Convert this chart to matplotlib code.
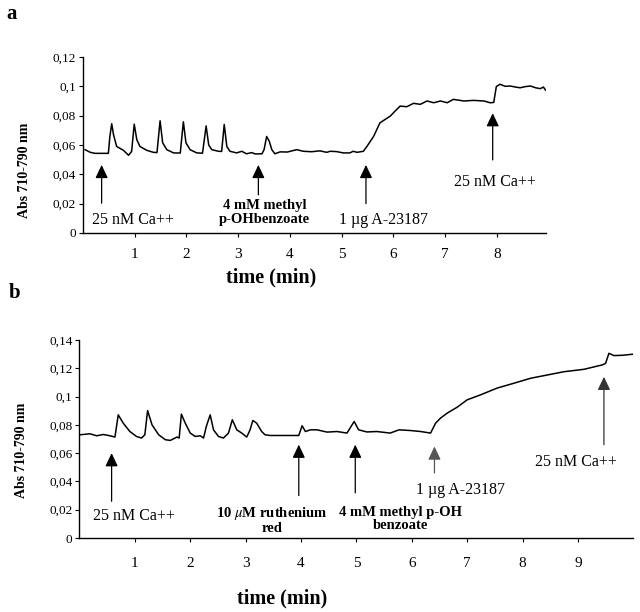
import matplotlib
matplotlib.use("Agg")
import matplotlib.pyplot as plt

plt.rcParams['font.family'] = ['Liberation Serif', 'DejaVu Serif']
plt.rcParams['mathtext.fontset'] = 'stix'

# ---- panel a: trace (time in min, absorbance) ----
a_time = [0.04, 0.14, 0.23, 0.49, 0.52, 0.555, 0.59, 0.65, 0.78, 0.88, 0.94,
          0.99, 1.04, 1.10, 1.23, 1.36, 1.43,
          1.49, 1.54, 1.62, 1.75, 1.88,
          1.94, 1.99, 2.07, 2.20, 2.31,
          2.38, 2.43, 2.49, 2.62, 2.68,
          2.73, 2.78, 2.84, 2.97, 3.07, 3.16, 3.26, 3.33, 3.46, 3.50,
          3.55, 3.60, 3.65, 3.71, 3.81, 3.95, 4.13, 4.26, 4.42, 4.58, 4.71,
          4.78, 4.90, 5.03, 5.16, 5.22, 5.30, 5.42,
          5.49, 5.62, 5.74, 5.84, 5.94, 6.03, 6.13, 6.26, 6.39, 6.52, 6.65,
          6.78, 6.91, 7.04, 7.16, 7.36, 7.55, 7.75, 7.87, 7.94, 7.99, 8.06,
          8.16, 8.26, 8.36, 8.45, 8.55, 8.65, 8.75, 8.84, 8.90, 8.94]
a_abs = [0.0568, 0.0550, 0.0543, 0.0543, 0.0660, 0.0745, 0.0670, 0.0590, 0.0564, 0.0530, 0.0556,
         0.0742, 0.0636, 0.0590, 0.0564, 0.0550, 0.0548,
         0.0765, 0.0615, 0.0568, 0.0546, 0.0545,
         0.0758, 0.0615, 0.0568, 0.0546, 0.0544,
         0.0730, 0.0600, 0.0568, 0.0557, 0.0556,
         0.0740, 0.0590, 0.0557, 0.0546, 0.0557, 0.0540, 0.0548, 0.0539, 0.0540, 0.0568,
         0.0658, 0.0626, 0.0568, 0.0540, 0.0553, 0.0552, 0.0568, 0.0557, 0.0554, 0.0560, 0.0550,
         0.0557, 0.0555, 0.0546, 0.0546, 0.0557, 0.0550, 0.0557,
         0.0591, 0.0660, 0.0751, 0.0774, 0.0797, 0.0830, 0.0865, 0.0861, 0.0884, 0.0877, 0.0900,
         0.0888, 0.0900, 0.0888, 0.0911, 0.0900, 0.0904, 0.0900, 0.0888, 0.0890, 0.0998, 0.1014,
         0.1000, 0.1002, 0.0995, 0.0990, 0.0998, 0.1002, 0.0990, 0.0984, 0.0995, 0.0975]

# arrows: time, head, tail
a_events = [0.36, 3.39, 5.47, 7.92]
a_heads = [0.0464, 0.0464, 0.0464, 0.0817]
a_tails = [0.0203, 0.0260, 0.0200, 0.0498]

a_yticks = [0, 0.02, 0.04, 0.06, 0.08, 0.1, 0.12]
a_yticklabels = ['0', '0,02', '0,04', '0,06', '0,08', '0,1', '0,12']
a_xticks = [1, 2, 3, 4, 5, 6, 7, 8]

# ---- panel b ----
b_time = [0.01, 0.19, 0.31, 0.43, 0.55, 0.64, 0.70, 0.79, 0.91, 1.03, 1.12, 1.18,
          1.23, 1.31, 1.43, 1.55, 1.64, 1.76, 1.80,
          1.84, 1.91, 2.00, 2.09, 2.18, 2.24, 2.29,
          2.36, 2.42, 2.51, 2.60, 2.69,
          2.76, 2.84, 2.93, 3.02, 3.08,
          3.13, 3.20, 3.29, 3.35, 3.44, 3.70, 3.96,
          4.02, 4.08, 4.17, 4.29, 4.47, 4.65, 4.83,
          4.96, 5.04, 5.19, 5.37, 5.61, 5.77, 5.98, 6.16, 6.34,
          6.43, 6.52, 6.64, 6.82, 7.00, 7.24, 7.54, 7.84, 8.15, 8.45, 8.75, 9.11, 9.44, 9.50,
          9.56, 9.65, 9.80, 10.0]
b_abs = [0.0730, 0.0737, 0.0723, 0.0732, 0.0723, 0.0714, 0.0871, 0.0812, 0.0753, 0.0718, 0.0707, 0.0730,
         0.0901, 0.0800, 0.0730, 0.0695, 0.0690, 0.0714, 0.0707,
         0.0876, 0.0812, 0.0742, 0.0718, 0.0723, 0.0707, 0.0789,
         0.0871, 0.0765, 0.0718, 0.0707, 0.0742,
         0.0836, 0.0765, 0.0742, 0.0714, 0.0765,
         0.0831, 0.0812, 0.0753, 0.0730, 0.0725, 0.0725, 0.0725,
         0.0794, 0.0753, 0.0765, 0.0765, 0.0749, 0.0753, 0.0742,
         0.0824, 0.0765, 0.0750, 0.0753, 0.0742, 0.0765, 0.0760, 0.0753, 0.0742,
         0.0812, 0.0848, 0.0883, 0.0925, 0.0977, 0.1012, 0.1060, 0.1094, 0.1130, 0.1153, 0.1176, 0.1193, 0.1224, 0.1235,
         0.1306, 0.1290, 0.1292, 0.1300]

b_events = [0.58, 3.96, 4.98, 6.41, 9.47]
b_heads = [0.0600, 0.0660, 0.0660, 0.0647, 0.1140]
b_tails = [0.0260, 0.0300, 0.0319, 0.0460, 0.0660]

b_yticks = [0, 0.02, 0.04, 0.06, 0.08, 0.1, 0.12, 0.14]
b_yticklabels = ['0', '0,02', '0,04', '0,06', '0,08', '0,1', '0,12', '0,14']
b_xticks = [1, 2, 3, 4, 5, 6, 7, 8, 9]


def style_axes(ax, yticks, yticklabels, xticks, xpad):
    for side in ('top', 'right'):
        ax.spines[side].set_visible(False)
    for side in ('left', 'bottom'):
        ax.spines[side].set_linewidth(1.0)
    ax.set_yticks(yticks)
    ax.set_yticklabels(yticklabels)
    ax.set_xticks(xticks)
    ax.tick_params(axis='y', direction='out', length=3, width=0.8, labelsize=9.5, pad=2)
    ax.tick_params(axis='x', direction='out', length=3, width=0.8, labelsize=11, pad=xpad)


def draw_arrows(ax, times, heads, tails, colors):
    for t, h, tl, c in zip(times, heads, tails, colors):
        ax.annotate('', xy=(t, h), xytext=(t, tl),
                    arrowprops=dict(arrowstyle='-|>,head_length=0.8,head_width=0.38',
                                    color=c, lw=0.9, shrinkA=0, shrinkB=0,
                                    mutation_scale=10))


fig = plt.figure(figsize=(6.4, 6.12), dpi=100)

# ---------------- panel a ----------------
ax1 = fig.add_axes([0.1297, 0.6193, 0.7234, 0.2876])
ax1.plot(a_time, a_abs, color='black', lw=1.1)
ax1.set_xlim(0, 8.95)
ax1.set_ylim(0, 0.12)
style_axes(ax1, a_yticks, a_yticklabels, a_xticks, xpad=8)
draw_arrows(ax1, a_events, a_heads, a_tails, ['black'] * 4)

ax1.text(0.18, 0.0089, '25 nM Ca++', fontsize=11.5, va='center', ha='left')
ax1.text(3.51, 0.0139, '4 mM methyl\np-OHbenzoate', fontsize=10.5, fontweight='bold',
         va='center', ha='center', linespacing=1.1)
ax1.text(5.80, 0.0089, '1 µg A-23187', fontsize=11.5, va='center', ha='center')
ax1.text(7.96, 0.0350, '25 nM Ca++', fontsize=11.5, va='center', ha='center')

fig.text(25 / 640, 1 - 170 / 612, 'Abs 710-790 nm', rotation=90, fontsize=10,
         fontweight='bold', ha='center', va='center')
fig.text(271 / 640, 1 - 277 / 612, 'time (min)', fontsize=14.5, fontweight='bold',
         ha='center', va='center')
fig.text(12 / 640, 1 - 14 / 612, 'a', fontsize=15, fontweight='bold', ha='center', va='center')

# ---------------- panel b ----------------
ax2 = fig.add_axes([0.1242, 0.1209, 0.8653, 0.3235])
ax2.plot(b_time, b_abs, color='black', lw=1.1)
ax2.set_xlim(0, 10)
ax2.set_ylim(0, 0.14)
style_axes(ax2, b_yticks, b_yticklabels, b_xticks, xpad=11)
draw_arrows(ax2, b_events, b_heads, b_tails, ['black', 'black', 'black', '#555555', '#333333'])

ax2.text(0.99, 0.0154, '25 nM Ca++', fontsize=11.5, va='center', ha='center')
ax2.text(3.48, 0.0128, '10 $\\mu$M ruthenium\nred', fontsize=10.5, fontweight='bold',
         va='center', ha='center', linespacing=1.0)
ax2.text(5.80, 0.0133, '4 mM methyl p-OH\nbenzoate', fontsize=10.5, fontweight='bold',
         va='center', ha='center', linespacing=1.0)
ax2.text(6.88, 0.0340, '1 µg A-23187', fontsize=11.5, va='center', ha='center')
ax2.text(8.96, 0.0540, '25 nM Ca++', fontsize=11.5, va='center', ha='center')

fig.text(22 / 640, 1 - 450 / 612, 'Abs 710-790 nm', rotation=90, fontsize=10,
         fontweight='bold', ha='center', va='center')
fig.text(282 / 640, 1 - 598 / 612, 'time (min)', fontsize=14.5, fontweight='bold',
         ha='center', va='center')
fig.text(15 / 640, 1 - 293 / 612, 'b', fontsize=15, fontweight='bold', ha='center', va='center')

fig.savefig('out.png', dpi=100)
